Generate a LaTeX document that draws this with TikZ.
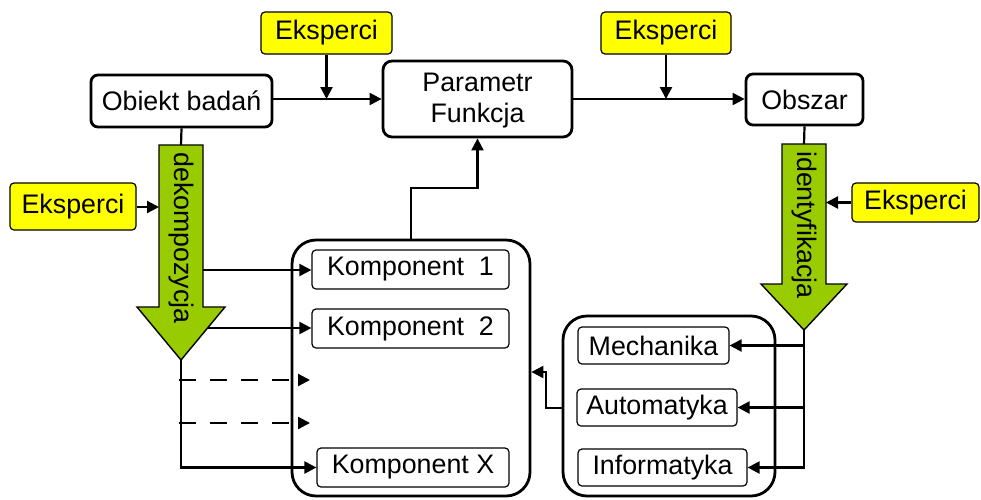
\documentclass[tikz,border=0pt]{standalone}
\usepackage{fontspec}
\setmainfont{Liberation Sans}
\usetikzlibrary{arrows.meta}
\definecolor{expyellow}{HTML}{FFFF00}
\definecolor{arrgreen}{HTML}{99CC00}
\tikzset{
  txt/.style={font=\fontsize{26.8pt}{31pt}\selectfont, inner sep=0pt, align=center},
  boxA/.style={txt, draw=black, line width=2.8pt, rounded corners=7pt, fill=white},
  boxE/.style={txt, draw=black, line width=1.2pt, rounded corners=4pt, fill=expyellow},
  boxK/.style={txt, draw=black, line width=1.2pt, rounded corners=4pt, fill=white},
  contbox/.style={draw=black, line width=2.8pt, rounded corners=24pt, inner sep=0pt},
  arr/.style={line width=2.2pt, -{Triangle[length=12pt,width=12pt]}},
  plain/.style={line width=2.2pt},
  dashline/.style={arr, dash pattern=on 17pt off 14pt},
  greenarrow/.style={fill=arrgreen, draw=black, line width=1.4pt, line join=miter},
  vlabel/.style={txt, rotate=-90, anchor=west}
}
\begin{document}
\begin{tikzpicture}[x=1pt,y=-1pt]
\useasboundingbox (0,0) rectangle (981,499);

% containers
\node[contbox, minimum width=238pt, minimum height=256pt] (C1) at (411,368) {};
\node[contbox, minimum width=212pt, minimum height=180pt] (C2) at (669,406) {};

% main boxes
\node[boxA, minimum width=181pt, minimum height=52pt] (O) at (181.5,101) {Obiekt badań};
\node[boxA, minimum width=189pt, minimum height=76pt, rounded corners=9pt] (P) at (477.5,99) {};
\node[txt] (Ptxt) at (477.5,101) {Parametr\\Funkcja};
\node[boxA, minimum width=117pt, minimum height=51pt] (S) at (804.5,99.5) {Obszar};

% experts
\node[boxE, minimum width=131pt, minimum height=42pt] (E1) at (326.5,33) {Eksperci};
\node[boxE, minimum width=130pt, minimum height=42pt] (E2) at (666,33) {Eksperci};
\node[boxE, minimum width=126pt, minimum height=47pt] (E3) at (73,206.5) {Eksperci};
\node[boxE, minimum width=127pt, minimum height=39pt] (E4) at (915.5,202.5) {Eksperci};

% components
\node[boxK, minimum width=197pt, minimum height=39pt] (K1) at (410.5,269.5) {Komponent\ \ 1};
\node[boxK, minimum width=197pt, minimum height=39pt] (K2) at (410.5,328.5) {Komponent\ \ 2};
\node[boxK, minimum width=192pt, minimum height=39pt] (KX) at (413,467.5) {Komponent X};

% disciplines
\node[boxK, minimum width=151pt, minimum height=37pt] (M) at (653.5,345.5) {Mechanika};
\node[boxK, minimum width=160pt, minimum height=37pt] (A) at (657,407.5) {Automatyka};
\node[boxK, minimum width=169pt, minimum height=37pt] (I) at (662.5,467.5) {Informatyka};

% named coordinates
\coordinate (dtop) at (181,145);
\coordinate (dtip) at (181,360);
\coordinate (dleft) at (159,207);
\coordinate (dright) at (203,270);
\coordinate (dhead) at (208,328);
\coordinate (dash1s) at (179,380);
\coordinate (dash1e) at (310,380);
\coordinate (dash2s) at (179,423);
\coordinate (dash2e) at (310,423);
\coordinate (itop) at (804,144);
\coordinate (itip) at (804,330);
\coordinate (iright) at (826,202.5);
\coordinate (fbA) at (546,372);
\coordinate (fbB) at (563,408);

% connectors top row
\draw[arr] (O.east |- P.west) -- (P.west);
\draw[arr] (E1.south) -- (E1.south |- P.west);
\draw[arr] (P.east) -- (P.east -| S.west);
\draw[arr] (E2.south) -- (E2.south |- P.east);
\draw[plain] (O.south) -- (dtop);
\draw[plain] (S.south) -- (itop);

% green arrows
\draw[greenarrow] (159,145) -- (203,145) -- (203,307) -- (225,307) -- (181,360) -- (137,307) -- (159,307) -- cycle;
\draw[greenarrow] (782,144) -- (826,144) -- (826,284) -- (847,284) -- (804,330) -- (761,284) -- (782,284) -- cycle;
\node[vlabel] (dlab) at (181,152) {dekompozycja};
\node[vlabel] (ilab) at (804,151) {identyfikacja};

% experts into green arrows
\draw[arr] (E3.east |- dleft) -- (dleft);
\draw[arr] (E4.west) -- (iright);

% decomposition to components
\draw[arr] (dright) -- (dright -| K1.west);
\draw[arr] (dhead) -- (dhead -| K2.west);
\draw[dashline] (dash1s) -- (dash1e);
\draw[dashline] (dash2s) -- (dash2e);
\draw[arr] (dtip) |- (KX.west);

% components to Parametr
\draw[arr] (C1.north) -- ++(0,-51) -| (P.south);

% identification to disciplines
\draw[arr] (itip) |- (I.east);
\draw[arr] (itip |- M.east) -- (M.east);
\draw[arr] (itip |- A.east) -- (A.east);

% disciplines to components
\draw[arr] (fbB) -- (fbB -| fbA) -- (fbA) -- (fbA -| C1.east);
\end{tikzpicture}
\end{document}
